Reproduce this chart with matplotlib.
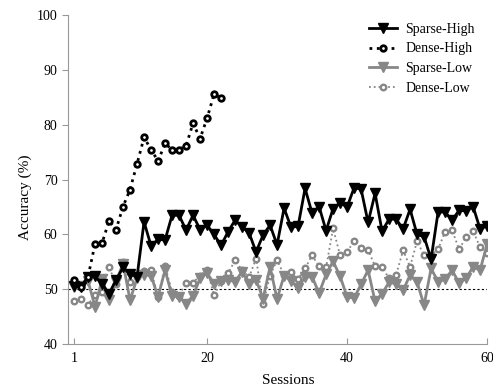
import matplotlib
matplotlib.use("Agg")
import matplotlib.pyplot as plt
import numpy as np

plt.rcParams['font.family'] = ['Liberation Serif', 'DejaVu Serif']

sessions = np.arange(1, 61)

sparse_high = [50.6, 50.4, 52.3, 52.4, 51.0, 49.2, 51.7, 54.0, 52.8, 52.3,
               62.3, 57.9, 59.1, 59.0, 63.5, 63.5, 60.8, 63.5, 60.9, 61.7,
               60.0, 58.0, 60.5, 62.6, 61.4, 60.3, 56.8, 59.9, 61.7, 58.1,
               64.8, 61.3, 61.5, 68.4, 63.9, 65.1, 60.7, 64.7, 65.8, 65.0,
               68.5, 68.3, 62.2, 67.5, 60.6, 62.8, 62.8, 61.0, 64.6, 60.0,
               59.6, 55.5, 64.1, 64.1, 62.6, 64.4, 64.3, 65.1, 61.0, 61.6]

dense_high = [51.7, 50.5, 52.3, 58.3, 58.4, 62.5, 60.9, 65.1, 68.2, 72.9,
              77.7, 75.5, 73.4, 76.6, 75.5, 75.5, 76.2, 80.3, 77.5, 81.2,
              85.6, 84.9]

sparse_low = [50.5, 50.6, 51.5, 46.8, 51.8, 48.1, 51.4, 54.7, 48.0, 52.0,
              52.6, 52.5, 48.6, 53.5, 48.8, 48.6, 47.4, 48.8, 52.0, 53.0,
              51.0, 51.5, 51.7, 51.4, 53.2, 51.0, 51.7, 48.3, 54.1, 48.2,
              52.5, 51.5, 50.3, 52.2, 52.3, 49.3, 52.7, 55.1, 52.4, 48.6,
              48.4, 50.9, 53.5, 47.8, 49.2, 51.3, 51.0, 49.8, 52.6, 51.3,
              47.1, 53.8, 51.4, 51.8, 53.5, 51.1, 52.0, 54.1, 53.5, 58.2]

dense_low = [47.9, 48.2, 47.2, 49.0, 49.5, 54.0, 51.0, 55.0, 51.4, 52.2,
             53.3, 53.5, 48.6, 54.3, 49.5, 48.8, 51.2, 51.2, 52.5, 53.6,
             48.9, 51.5, 52.9, 55.3, 53.5, 52.2, 55.6, 47.4, 52.5, 55.3,
             52.6, 53.1, 51.9, 53.8, 56.2, 54.2, 54.0, 61.1, 56.2, 56.8,
             58.8, 57.5, 57.2, 54.2, 54.0, 52.0, 52.6, 57.1, 54.1, 58.8,
             56.2, 56.2, 57.3, 60.5, 60.8, 57.3, 59.5, 60.6, 57.7, 56.6]

chance = 50
grey = '#878787'

fig = plt.figure(figsize=(4.93, 3.91), dpi=100)
ax = fig.add_axes([0.138, 0.120, 0.850, 0.841])

ax.plot(sessions, sparse_high, color='black', lw=2, marker='v', ms=6.5,
        label='Sparse-High', zorder=4)
ax.plot(sessions[:len(dense_high)], dense_high, color='black', lw=2, ls=':',
        marker='o', ms=4, mfc='white', mec='black', mew=2,
        label='Dense-High', zorder=5)
ax.plot(sessions, sparse_low, color=grey, lw=2, marker='v', ms=6.5,
        label='Sparse-Low', zorder=3)
ax.plot(sessions, dense_low, color=grey, lw=1.3, ls=':',
        marker='o', ms=4, mfc='white', mec=grey, mew=1.7,
        label='Dense-Low', zorder=2)
ax.axhline(chance, color='black', lw=0.8, ls=(0, (2, 2)), zorder=1)

ax.set_xlim(0.14, 60)
ax.set_ylim(40, 100)
ax.set_xticks([1, 20, 40, 60])
ax.set_yticks([40, 50, 60, 70, 80, 90, 100])
for s in ['top', 'right']:
    ax.spines[s].set_visible(False)
for s in ['left', 'bottom']:
    ax.spines[s].set_color('#999999')
ax.tick_params(axis='x', direction='in', length=4, color='#999999',
               labelsize=10, pad=6)
ax.tick_params(axis='y', direction='out', length=4, color='#999999',
               labelsize=10)

ax.set_xlabel('Sessions', fontsize=11)
ax.xaxis.set_label_coords(0.525, -0.09)
ax.set_ylabel('Accuracy (%)', fontsize=11)
ax.yaxis.set_label_coords(-0.085, 0.447)

ax.legend(loc='upper right', bbox_to_anchor=(1.0, 1.015), frameon=False,
          fontsize=10, handlelength=2.0, labelspacing=0.48, handletextpad=0.6)

fig.savefig('out.png', dpi=100)
